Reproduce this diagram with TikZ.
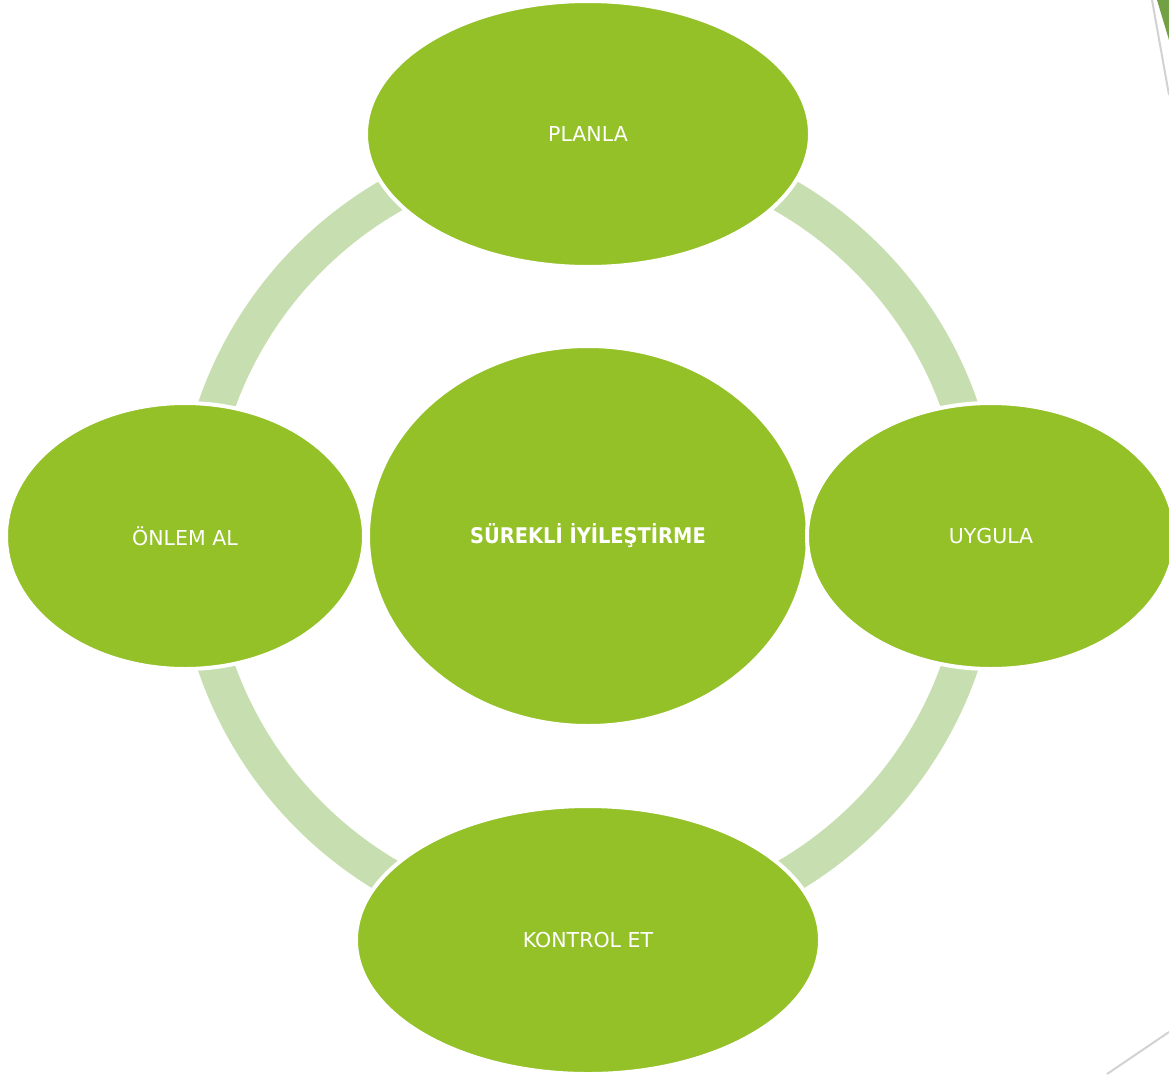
\documentclass[tikz,border=0pt]{standalone}
\usepackage{fontspec}
\setmainfont{DejaVu Sans}
\newfontfamily\corefont{DejaVuSansCondensed-Bold.ttf}
\usepackage{tikz}
\usetikzlibrary{shapes.geometric}
\usetikzlibrary{calc}
\usetikzlibrary{backgrounds}
\definecolor{leaf}{RGB}{147,193,39}
\definecolor{pale}{RGB}{199,223,176}
\definecolor{moss}{RGB}{114,160,68}
\definecolor{rule}{RGB}{210,210,210}
\tikzstyle{stage} = [ellipse, fill=leaf, draw=white, line width=3pt,
   text=white, inner sep=0pt, font=\fontsize{15.4}{18}\selectfont]
\tikzstyle{ringArc} = [pale, line width=27.5pt]

\begin{document}
\begin{tikzpicture}[x=0.75pt,y=-0.75pt]
  \useasboundingbox (0,0) rectangle (1169,1074);
  \node [stage, minimum width=330pt, minimum height=285pt,
         font=\corefont\fontsize{16.2}{19}\selectfont] (core) at (588,536) {SÜREKLİ İYİLEŞTİRME};
  \node [stage, minimum width=333pt, minimum height=199.5pt] (plan) at (588,134) {PLANLA};
  \node [stage, minimum width=276pt, minimum height=199.5pt] (uygula) at (991,536) {UYGULA};
  \node [stage, minimum width=348pt, minimum height=201pt] (kontrol) at (588,940) {KONTROL ET};
  \node [stage, minimum width=268.5pt, minimum height=199.5pt] (onlem) at (185,536) {ÖNLEM AL};
  \begin{scope}[on background layer]
    \draw [ringArc] ($(plan.center)!7pt!(core.center)$) to[bend left=45] ($(uygula.center)!7pt!(core.center)$);
    \draw [ringArc] ($(uygula.center)!7pt!(core.center)$) to[bend left=45] ($(kontrol.center)!7pt!(core.center)$);
    \draw [ringArc] ($(kontrol.center)!7pt!(core.center)$) to[bend left=45] ($(onlem.center)!7pt!(core.center)$);
    \draw [ringArc] ($(onlem.center)!7pt!(core.center)$) to[bend left=45] ($(plan.center)!7pt!(core.center)$);
  \end{scope}
  % slide corner marks
  \fill [moss] (1157,0) -- (1169,0) -- (1169,40) -- cycle;
  \draw [rule, line width=1.5pt] (1152,0) -- (1169,95);
  \draw [rule, line width=1.5pt] (1107,1074) -- (1169,1032);
\end{tikzpicture}
\end{document}
